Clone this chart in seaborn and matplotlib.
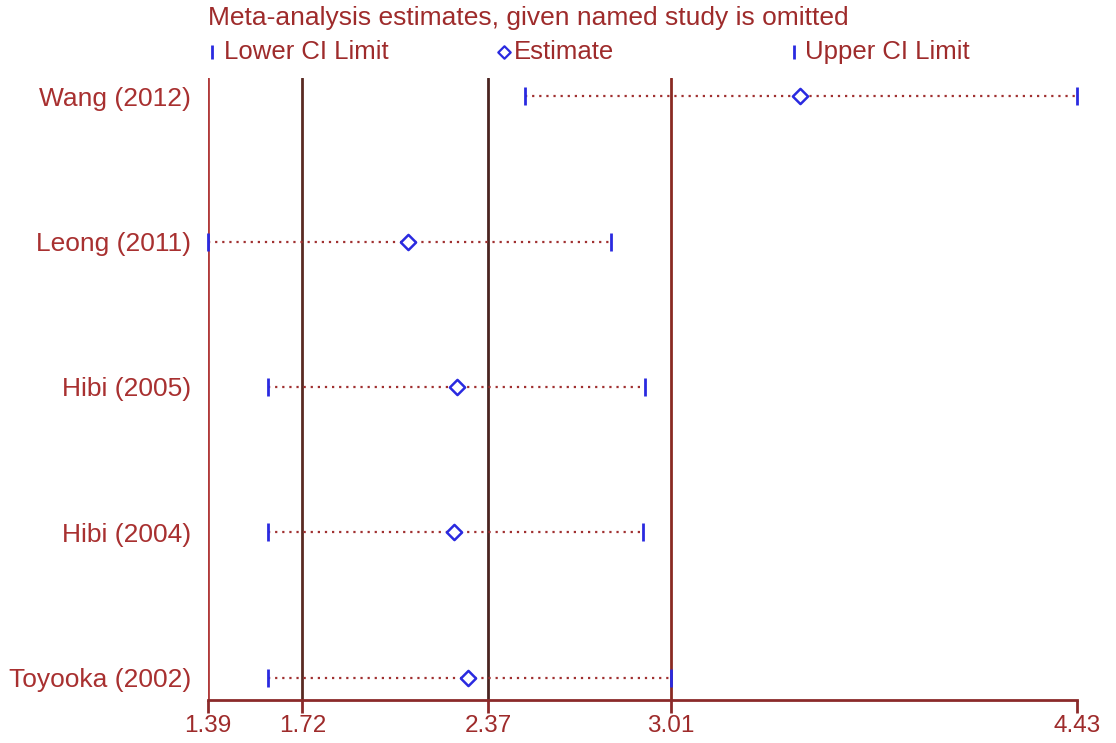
import matplotlib
matplotlib.use("Agg")
import matplotlib.pyplot as plt
import seaborn as sns
import pandas as pd

studies = ["Wang (2012)", "Leong (2011)", "Hibi (2005)", "Hibi (2004)", "Toyooka (2002)"]
lower = [2.50, 1.39, 1.60, 1.60, 1.60]
estimate = [3.46, 2.09, 2.26, 2.25, 2.30]
upper = [4.43, 2.80, 2.92, 2.91, 3.01]
ref_lines = [1.39, 1.72, 2.37, 3.01]
ref_colors = ["#b03a3a", "#5a2a22", "#4a2420", "#8a2a22"]
tick_vals = [1.39, 1.72, 2.37, 3.01, 4.43]
tick_labels = ["1.39", "1.72", "2.37", "3.01", "4.43"]

sns.set_theme(style="white")
plt.rcParams['font.family'] = ['Liberation Sans', 'DejaVu Sans']

txt_col = "#9e2b2b"
blue = "#2a2ae0"

ypos = list(range(len(studies), 0, -1))
df = pd.DataFrame({"study": studies, "lower": lower, "est": estimate,
                   "upper": upper, "y": ypos})

W, H = 1116, 743
fig = plt.figure(figsize=(W / 100, H / 100), dpi=100)
ax = fig.add_axes([208 / W, (H - 700) / H, 869 / W, 622 / H])

for v, c in zip(ref_lines, ref_colors):
    ax.axvline(v, color=c, lw=2, zorder=1)

ax.hlines(df["y"], df["lower"], df["upper"], colors="#a03030",
          linestyles=(0, (1, 2.2)), lw=1.6, zorder=2)

sns.scatterplot(data=df, x="lower", y="y", marker="|", s=170, color=blue,
                linewidth=2, ax=ax, zorder=3, clip_on=False, legend=False)
sns.scatterplot(data=df, x="upper", y="y", marker="|", s=170, color=blue,
                linewidth=2, ax=ax, zorder=3, clip_on=False, legend=False)
sns.scatterplot(data=df, x="est", y="y", marker="D", s=60, facecolor="white",
                edgecolor=blue, linewidth=1.8, ax=ax, zorder=4, clip_on=False,
                legend=False)

ax.set_xlim(1.39, 4.43)
ax.set_ylim(1 - 22 / 145, 5 + 18 / 145)
ax.set_xlabel("")
ax.set_ylabel("")

for s in ["top", "right", "left"]:
    ax.spines[s].set_visible(False)
ax.spines["bottom"].set_color("#8b2a2a")
ax.spines["bottom"].set_linewidth(2)

ax.set_xticks(tick_vals)
ax.set_xticklabels(tick_labels, fontsize=17.5, color=txt_col)
ax.tick_params(axis="x", direction="out", length=9, width=2, color="#8b2a2a",
               pad=2, bottom=True)
ax.set_yticks(ypos)
ax.set_yticklabels(studies, fontsize=19, color="#a83030")
ax.tick_params(axis="y", length=0, pad=12)

# Title and legend
fig.text(208 / W, 1 - 18 / H, "Meta-analysis estimates, given named study is omitted",
         fontsize=19, color=txt_col, ha="left", va="center")
ly = 1 - 52 / H
ax.scatter([212 / W], [ly], marker="|", s=100, color=blue, linewidth=2,
           transform=fig.transFigure, clip_on=False)
fig.text(224 / W, ly, "Lower CI Limit", fontsize=18.5, color=txt_col,
         ha="left", va="center")
ax.scatter([504 / W], [ly], marker="D", s=40, facecolor="white", edgecolor=blue,
           linewidth=1.6, transform=fig.transFigure, clip_on=False)
fig.text(514 / W, ly, "Estimate", fontsize=18.5, color=txt_col,
         ha="left", va="center")
ax.scatter([794 / W], [ly], marker="|", s=100, color=blue, linewidth=2,
           transform=fig.transFigure, clip_on=False)
fig.text(805 / W, ly, "Upper CI Limit", fontsize=18.5, color=txt_col,
         ha="left", va="center")

fig.savefig("out.png", dpi=100)
